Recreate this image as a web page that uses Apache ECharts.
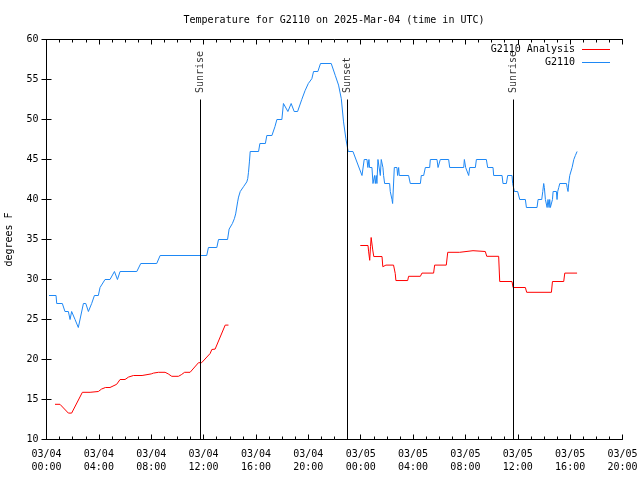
<!DOCTYPE html>
<html>
<head>
<meta charset="utf-8">
<script src="https://cdn.jsdelivr.net/npm/echarts@6/dist/echarts.min.js"></script>
<style>html,body{margin:0;padding:0;background:#fff}#c{width:640px;height:480px}</style>
</head>
<body>
<div id="c"></div>
<script>
// ---- data (hours since 2025-03-04 00:00 UTC, degrees F) ----
const titleText = 'Temperature for G2110 on 2025-Mar-04 (time in UTC)';
const xTickLabels = ['03/04\n00:00','03/04\n04:00','03/04\n08:00','03/04\n12:00','03/04\n16:00','03/04\n20:00',
                     '03/05\n00:00','03/05\n04:00','03/05\n08:00','03/05\n12:00','03/05\n16:00','03/05\n20:00'];
const stationName = 'G2110';
const analysisName = 'G2110 Analysis';

const stationHours = [0.19,0.73,0.78,1.21,1.41,1.67,1.80,1.92,2.00,2.18,2.43,2.82,3.00,3.20,3.45,3.66,3.96,4.09,4.47,4.85,
  5.19,5.42,5.62,6.90,7.20,8.42,8.68,12.24,12.37,13.01,13.14,13.83,13.95,14.20,14.35,14.45,14.60,14.67,14.80,15.05,
  15.30,15.37,15.43,15.50,15.56,16.20,16.30,16.72,16.83,17.22,17.45,17.60,17.98,18.10,18.18,18.44,18.69,18.92,19.18,19.50,
  19.75,20.00,20.27,20.40,20.73,20.93,21.75,22.06,22.31,22.52,22.69,22.87,23.00,23.05,23.41,24.10,24.27,24.48,24.55,24.63,
  24.68,24.86,24.94,25.06,25.12,25.19,25.24,25.32,25.40,25.50,25.57,25.65,25.70,25.75,25.83,26.21,26.26,26.39,26.44,26.57,
  26.77,26.82,26.90,26.95,27.66,27.79,28.56,28.63,28.81,28.94,29.27,29.32,29.83,29.91,30.03,30.08,30.72,30.80,31.87,31.92,
  32.02,32.25,32.33,32.76,32.84,33.60,33.70,34.11,34.16,34.80,34.87,35.13,35.23,35.56,35.61,35.74,35.99,36.15,36.58,36.66,
  37.47,37.55,37.83,37.91,37.98,38.03,38.11,38.24,38.31,38.39,38.44,38.49,38.59,38.65,38.70,38.95,39.00,39.05,39.13,39.21,
  39.72,39.77,39.84,39.89,39.97,40.07,40.15,40.28,40.40,40.53];
const stationTemps = [28,28,27,27,26,26,25,26,26,25,24,27,27,26,27,28,28,29,30,30,
  31,30,31,31,32,32,33,33,34,34,35,35,36.3,37,37.6,38.2,39.7,40.3,41,41.6,
  42.2,42.6,43.4,44.7,46,46,47,47,48,48,49.1,50,50,52,52,51,52,51,51,52.5,
  53.6,54.5,55.1,56,56,57,57,55.5,54.3,52.6,49.7,47.6,46.4,46,46,43,45,45,44,45,
  44,44,42,43,42,43,42,45,45,43,45,45,44,43,42,42,41,40,39.5,44,
  44,43,44,43,43,42,42,43,43,44,44,45,45,44,44,45,45,44,44,45,
  44,43,44,44,45,45,44,44,43,43,42,42,43,43,42,41,41,40,40,39,
  39,40,40,41,42,41.5,40,39,40,39,40,39,39,40,41,41,40,41,41.5,42,
  42,41.5,41,42,43,43,44,45,45.5,46];

const analysisHours = [0.65,1.03,1.67,1.92,2.74,3.33,3.45,3.96,4.20,4.50,4.85,5.36,5.62,6.00,6.26,6.64,7.30,7.40,8.00,8.17,
  8.55,9.06,9.30,9.57,10.08,10.30,10.55,10.97,11.61,11.85,12.50,12.63,12.88,13.65,13.90,
  18.90,
  23.97,24.56,24.61,24.69,24.75,24.80,24.86,24.92,25.00,25.63,25.69,25.80,25.93,26.51,26.64,26.69,27.59,27.66,28.56,28.68,
  29.57,29.65,30.54,30.65,31.56,31.64,32.58,32.66,33.52,33.63,34.54,34.62,35.56,35.64,36.58,36.68,38.57,38.65,39.51,39.59,40.53];
const analysisTemps = [14.4,14.4,13.3,13.3,15.9,15.9,16.0,16.0,16.3,16.5,16.5,16.9,17.5,17.5,17.8,18.0,18.0,18.15,18.2,18.3,
  18.4,18.4,18.2,17.9,17.9,18.1,18.4,18.4,19.6,19.6,20.75,21.25,21.3,24.3,24.3,
  null,
  34.25,34.25,33.45,32.4,34.1,35.25,35.25,33.7,32.87,32.87,31.6,31.4,31.8,31.8,30.75,29.87,29.87,30.4,30.4,30.8,
  30.8,31.8,31.8,33.4,33.4,33.6,33.6,33.5,33.5,32.9,32.9,29.75,29.75,29.0,29.0,28.4,28.4,29.75,29.75,30.8,30.8];

const sunHours = [11.75, 22.98, 35.66];
const sunLabels = ['Sunrise', 'Sunset', 'Sunrise'];

// ---- chart ----
const yMin = 10, yMax = 60;
const sunTop = yMin + 0.85 * (yMax - yMin);
const FONT = 'DejaVu Sans Mono';
const txt = {fontFamily: FONT, fontSize: 10, color: '#000'};

const zip = (a, b) => a.map((v, i) => [v, b[i] == null ? '-' : b[i]]);

const axisCommon = {
  type: 'value', min: 0, max: 44, interval: 4,
  axisLine: {show: true, lineStyle: {color: '#000', width: 1}},
  axisTick: {show: true, inside: true, length: 5, lineStyle: {color: '#000'}},
  minorTick: {show: true, splitNumber: 4, length: 3, lineStyle: {color: '#000'}},
  splitLine: {show: false}, minorSplitLine: {show: false}
};
const yCommon = {
  type: 'value', min: yMin, max: yMax, interval: 5,
  axisLine: {show: true, lineStyle: {color: '#000', width: 1}},
  axisTick: {show: true, inside: true, length: 5, lineStyle: {color: '#000'}},
  splitLine: {show: false}
};

const chart = echarts.init(document.getElementById('c'), null, {renderer: 'canvas'});
chart.setOption({
  animation: false,
  backgroundColor: '#fff',
  title: {text: titleText, left: 334, top: 14, textAlign: 'center', padding: 0,
          textStyle: Object.assign({fontWeight: 'normal', lineHeight: 12}, txt)},
  grid: {left: 46.5, right: 17.5, top: 39.5, bottom: 40.5, containLabel: false, outerBoundsMode: 'none'},
  legend: [
    {data: [analysisName], orient: 'vertical', right: 30, top: 43.5, padding: 0, align: 'right',
     itemWidth: 28, itemHeight: 1, icon: 'rect', textStyle: Object.assign({lineHeight: 12, padding: [0, 2, 0, 0]}, txt)},
    {data: [stationName], orient: 'vertical', right: 30, top: 56.5, padding: 0, align: 'right',
     itemWidth: 28, itemHeight: 1, icon: 'rect', textStyle: Object.assign({lineHeight: 12, padding: [0, 2, 0, 0]}, txt)}
  ],
  xAxis: [
    Object.assign({}, axisCommon, {position: 'bottom',
      axisLabel: Object.assign({margin: 8, lineHeight: 13, formatter: v => xTickLabels[Math.round(v / 4)]}, txt)}),
    Object.assign({}, axisCommon, {position: 'top', axisLabel: {show: false}})
  ],
  yAxis: [
    Object.assign({}, yCommon, {position: 'left', axisLabel: Object.assign({margin: 8}, txt),
      name: 'degrees F', nameLocation: 'middle', nameGap: 32, nameRotate: 90, nameTextStyle: txt}),
    Object.assign({}, yCommon, {position: 'right', axisLabel: {show: false}})
  ],
  series: [
    {name: analysisName, type: 'line', xAxisIndex: 0, yAxisIndex: 0, data: zip(analysisHours, analysisTemps),
     showSymbol: false, symbol: 'none', connectNulls: false, color: '#ff0000',
     lineStyle: {color: '#ff0000', width: 1}, z: 3},
    {name: stationName, type: 'line', xAxisIndex: 0, yAxisIndex: 0, data: zip(stationHours, stationTemps),
     showSymbol: false, symbol: 'none', color: '#1e88f5',
     lineStyle: {color: '#1e88f5', width: 1}, z: 3,
     markLine: {silent: true, symbol: 'none', animation: false,
       lineStyle: {color: '#000', width: 1, type: 'solid'}, label: {show: false},
       data: sunHours.map(h => [{coord: [h, yMin]}, {coord: [h, sunTop]}])}},
    {name: 'sunLabels', type: 'scatter', xAxisIndex: 0, yAxisIndex: 0, silent: true,
     symbolSize: 1, itemStyle: {color: 'rgba(0,0,0,0)'},
     data: sunHours.map((h, i) => [h, sunTop, sunLabels[i]]),
     label: Object.assign({show: true, position: 'top', distance: 6, rotate: 90, align: 'left', verticalAlign: 'middle',
       offset: [1, 0], formatter: p => p.data[2]}, txt),
     labelLayout: {hideOverlap: false}}
  ]
});
</script>
</body>
</html>
